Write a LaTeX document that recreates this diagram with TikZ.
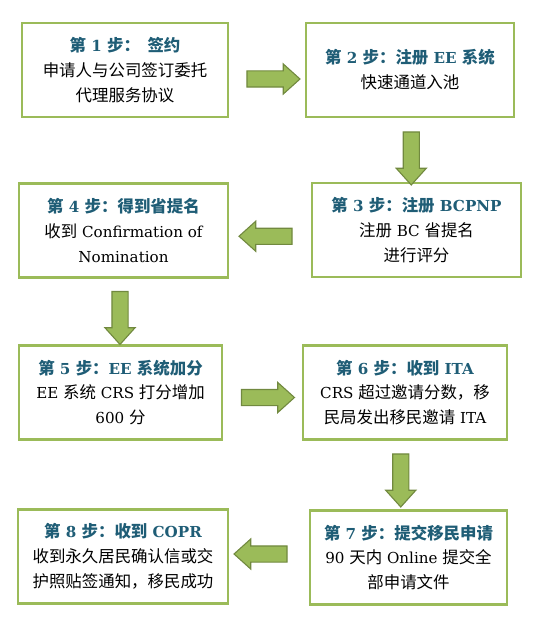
\documentclass[tikz,border=0pt]{standalone}
\usepackage{fontspec}
\setmainfont[Scale=0.92]{DejaVu Serif}
\newfontfamily\cjk{Noto Sans CJK SC}
\usepackage{tikz}
\usetikzlibrary{calc,shapes.arrows}

\definecolor{boxgreen}{RGB}{155,187,89}
\definecolor{arrowedge}{RGB}{113,137,63}
\definecolor{titleblue}{RGB}{31,93,118}
\newcommand{\zh}[1]{{\cjk #1}}
\newcommand{\steptitle}[1]{{\bfseries\color{titleblue}#1}}

\begin{document}
\begin{tikzpicture}[x=1bp,y=-1bp,
  stepbox/.style={draw=boxgreen,line width=2.8bp,align=center,inner sep=0pt,
    minimum height=94bp,font=\fontsize{16.5}{25}\selectfont},
  blockarrow/.style={single arrow,draw=arrowedge,fill=boxgreen,line width=1.1bp,
    inner sep=7.5bp,minimum height=53bp,
    single arrow head extend=7bp,single arrow tip angle=84}
]
\useasboundingbox (0,0) rectangle (536,629);
% steps
\node[stepbox,minimum width=206bp] (s1) at (125,70) {\steptitle{\zh{第} 1 \zh{步：\ \ 签约}}\\\zh{申请人与公司签订委托}\\\zh{代理服务协议}};
\node[stepbox,minimum width=208bp] (s2) at (410,70) {\steptitle{\zh{第} 2 \zh{步：注册} EE \zh{系统}}\\\zh{快速通道入池}};
\node[stepbox,minimum width=209bp] (s3) at (416.5,230) {\steptitle{\zh{第} 3 \zh{步：注册} BCPNP}\\\zh{注册} BC \zh{省提名}\\\zh{进行评分}};
\node[stepbox,minimum width=209bp] (s4) at (123.5,230.5) {\steptitle{\zh{第} 4 \zh{步：得到省提名}}\\\zh{收到} Confirmation of\\Nomination};
\node[stepbox,minimum width=203bp] (s5) at (120.5,392.5) {\steptitle{\zh{第} 5 \zh{步：}EE \zh{系统加分}}\\EE \zh{系统} CRS \zh{打分增加}\\600 \zh{分}};
\node[stepbox,minimum width=204bp] (s6) at (405,392.5) {\steptitle{\zh{第} 6 \zh{步：收到} ITA}\\CRS \zh{超过邀请分数，移}\\\zh{民局发出移民邀请} ITA};
\node[stepbox,minimum width=197bp] (s7) at (408.5,557.5) {\steptitle{\zh{第} 7 \zh{步：提交移民申请}}\\90 \zh{天内} Online \zh{提交全}\\\zh{部申请文件}};
\node[stepbox,minimum width=210bp] (s8) at (123,556.5) {\steptitle{\zh{第} 8 \zh{步：收到} COPR}\\\zh{收到永久居民确认信或交}\\\zh{护照贴签通知，移民成功}};
% block arrows between the steps
\node[blockarrow] (a12) at ($(s1.east)!0.5!(s2.west)+(2,9)$) {};
\node[blockarrow,shape border rotate=270] (a23) at ($(s2.south)!0.5!(s3.north)+(-2,4)$) {};
\node[blockarrow,shape border rotate=180] (a34) at ($(s3.west)!0.5!(s4.east)+(0,6)$) {};
\node[blockarrow,shape border rotate=270] (a45) at ($(s4.south)!0.5!(s5.north)+(-2,2)$) {};
\node[blockarrow] (a56) at ($(s5.east)!0.5!(s6.west)+(1,5)$) {};
\node[blockarrow,shape border rotate=270] (a67) at ($(s6.south)!0.5!(s7.north)+(-6,1)$) {};
\node[blockarrow,shape border rotate=180] (a78) at ($(s7.west)!0.5!(s8.east)+(-4,-3)$) {};
\end{tikzpicture}
\end{document}
